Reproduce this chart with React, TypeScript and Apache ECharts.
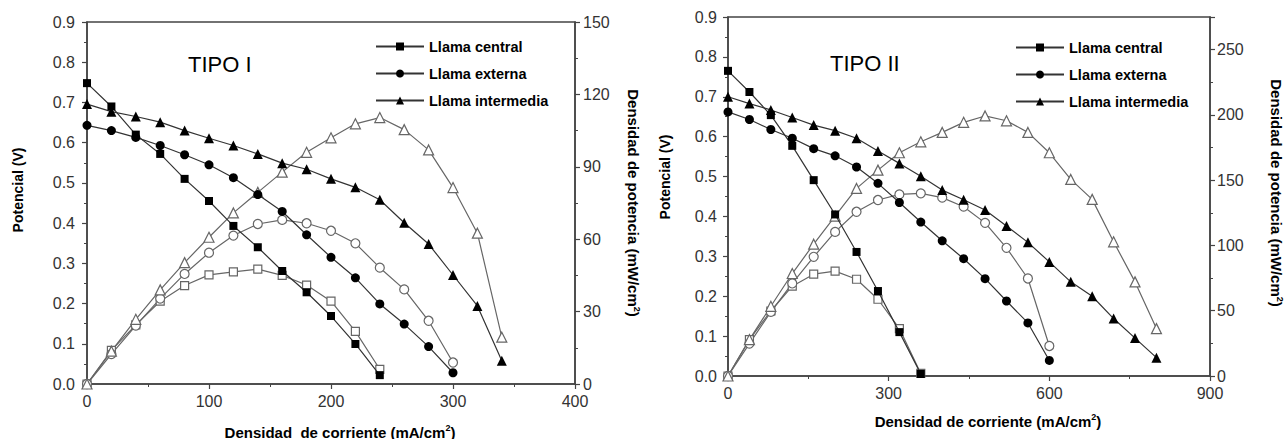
import React, { useEffect, useRef } from "react";
import * as echarts from "echarts";

// ---------- DATA ----------
// Panel TIPO I: current density (mA/cm2)
const currentI = [0, 20, 40, 60, 80, 100, 120, 140, 160, 180, 200, 220, 240, 260, 280, 300, 320, 340];
const centralV_I = [0.748, 0.69, 0.62, 0.572, 0.51, 0.455, 0.393, 0.34, 0.281, 0.228, 0.169, 0.0995, 0.022];
const centralP_I = [0, 13.9, 24.5, 34.3, 40.8, 45.2, 46.5, 47.6, 45, 41, 34.3, 21.8, 6.1];
const externaV_I = [0.643, 0.63, 0.613, 0.593, 0.57, 0.545, 0.513, 0.471, 0.429, 0.371, 0.315, 0.264, 0.199, 0.149, 0.093, 0.028];
const externaP_I = [0, 12.4, 24.2, 35.4, 45.6, 54.4, 61.5, 66.3, 68, 66.6, 63.5, 58.3, 48.2, 39.2, 26.2, 8.9];
const intermediaV_I = [0.696, 0.677, 0.665, 0.651, 0.63, 0.611, 0.593, 0.572, 0.549, 0.534, 0.51, 0.489, 0.458, 0.401, 0.348, 0.271, 0.194, 0.058];
const intermediaP_I = [0, 13.6, 26.8, 39, 50.3, 60.8, 70.9, 79.4, 87.8, 96, 102, 107.8, 110.4, 105.4, 97, 81.4, 62.5, 19.4];

// Panel TIPO II
const currentII = [0, 40, 80, 120, 160, 200, 240, 280, 320, 360, 400, 440, 480, 520, 560, 600, 640, 680, 720, 760, 800];
const centralV_II = [0.765, 0.712, 0.654, 0.577, 0.491, 0.405, 0.311, 0.213, 0.11, 0.005];
const centralP_II = [0, 27.9, 49.8, 68.8, 78, 80.3, 74.1, 58.8, 36.3, 2];
const externaV_II = [0.662, 0.643, 0.618, 0.596, 0.57, 0.552, 0.524, 0.483, 0.435, 0.386, 0.339, 0.294, 0.244, 0.188, 0.133, 0.039];
const externaP_II = [0, 24.8, 49.1, 70.9, 91.3, 110.4, 125.8, 134.8, 139.1, 139.9, 136.6, 129.7, 117.3, 98.2, 74.7, 23];
const intermediaV_II = [0.7, 0.683, 0.667, 0.648, 0.629, 0.615, 0.596, 0.564, 0.533, 0.501, 0.466, 0.442, 0.416, 0.376, 0.335, 0.286, 0.236, 0.2, 0.144, 0.095, 0.046];
const intermediaP_II = [0, 27.9, 53.4, 78.5, 101, 122.5, 143.7, 157.7, 171, 179.4, 186.6, 194.3, 199.2, 195.5, 186.6, 171, 150.6, 135.3, 102.8, 72.1, 36.3];

const legendNames = ["Llama central", "Llama externa", "Llama intermedia"];
const titles = ["TIPO I", "TIPO II"];
const yNameLeft = "Potencial (V)";
const yNameRight = "Densidad de potencia (mW/cm{s|2})";
const xNameI = "Densidad  de corriente (mA/cm{s|2})";
const xNameII = "Densidad de corriente (mA/cm{s|2})";

const FONT = 'Arial, "Liberation Sans", sans-serif';

function pairs(xs: number[], ys: number[]) {
  return ys.map((y, i) => [xs[i], y]);
}

const symbols = ["rect", "circle", "triangle"];
const symSizes = [8, 9, 10];

function voltSeries(name: string, idx: number, grid: number, xs: number[], ys: number[]) {
  return {
    name,
    type: "line",
    xAxisIndex: grid,
    yAxisIndex: grid * 2,
    data: pairs(xs, ys),
    symbol: symbols[idx],
    symbolSize: symSizes[idx],
    showSymbol: true,
    lineStyle: { color: "#333", width: 1.2 },
    itemStyle: { color: "#000", borderColor: "#000", borderWidth: 0 },
    z: 4,
  };
}

function powSeries(name: string, idx: number, grid: number, xs: number[], ys: number[]) {
  return {
    name,
    type: "line",
    xAxisIndex: grid,
    yAxisIndex: grid * 2 + 1,
    data: pairs(xs, ys),
    symbol: symbols[idx],
    symbolSize: symSizes[idx],
    showSymbol: true,
    lineStyle: { color: "#666", width: 1.2 },
    itemStyle: { color: "#fff", borderColor: "#666", borderWidth: 1.2 },
    z: 3,
  };
}

const axisLine = { show: true, lineStyle: { color: "#444", width: 1.5 } };
const axisTick = { show: true, length: 5, lineStyle: { color: "#444", width: 1.2 } };
const minorTick = { show: true, splitNumber: 2, length: 3, lineStyle: { color: "#444", width: 1 } };
const labelStyle = { color: "#333", fontSize: 16, fontFamily: FONT };
const richSup = {
  s: { fontSize: 9, fontWeight: "bold", fontFamily: FONT, verticalAlign: "top", lineHeight: 9 },
};
const nameText = { fontSize: 15, fontWeight: "bold", fontFamily: FONT, fill: "#000", lineHeight: 17 };
const legendText = { fontSize: 14.5, fontWeight: "bold", color: "#000", fontFamily: FONT, lineHeight: 14 };

export default function App() {
  const ref = useRef<HTMLDivElement>(null);
  useEffect(() => {
    if (!ref.current) return;
    const chart = echarts.init(ref.current, undefined, { renderer: "svg" });
    const option: any = {
      animation: false,
      backgroundColor: "#fff",
      grid: [
        { left: 87, top: 22, right: 711, bottom: 55, show: true, borderColor: "#444", borderWidth: 1.5, backgroundColor: "transparent" },
        { left: 728, top: 17, right: 76, bottom: 63, show: true, borderColor: "#444", borderWidth: 1.5, backgroundColor: "transparent" },
      ],
      legend: [
        {
          data: legendNames,
          orient: "vertical",
          left: 370,
          top: 34,
          itemWidth: 48,
          itemHeight: 10,
          itemGap: 12,
          textStyle: legendText,
          selectedMode: false,
        },
        {
          data: legendNames,
          orient: "vertical",
          left: 1010,
          top: 35,
          itemWidth: 48,
          itemHeight: 10,
          itemGap: 12,
          textStyle: legendText,
          selectedMode: false,
        },
      ],
      xAxis: [
        {
          type: "value", gridIndex: 0, min: 0, max: 400, interval: 100,
          axisLine, axisTick, minorTick, splitLine: { show: false },
          axisLabel: { ...labelStyle, margin: 9 },
        },
        {
          type: "value", gridIndex: 1, min: 0, max: 900, interval: 300,
          axisLine, axisTick, minorTick, splitLine: { show: false },
          axisLabel: { ...labelStyle, margin: 9 },
        },
      ],
      yAxis: [
        {
          type: "value", gridIndex: 0, min: 0, max: 0.9, interval: 0.1, position: "left",
          axisLine, axisTick, minorTick, splitLine: { show: false },
          axisLabel: { ...labelStyle, margin: 12, formatter: (v: number) => v.toFixed(1) },
        },
        {
          type: "value", gridIndex: 0, min: 0, max: 150, interval: 30, position: "right",
          axisLine, axisTick, minorTick, splitLine: { show: false },
          axisLabel: { ...labelStyle, margin: 8 },
        },
        {
          type: "value", gridIndex: 1, min: 0, max: 0.9, interval: 0.1, position: "left",
          axisLine, axisTick, minorTick, splitLine: { show: false },
          axisLabel: { ...labelStyle, margin: 11, formatter: (v: number) => v.toFixed(1) },
        },
        {
          type: "value", gridIndex: 1, min: 0, max: 275, interval: 50, position: "right",
          axisLine, axisTick, minorTick, splitLine: { show: false },
          axisLabel: { ...labelStyle, margin: 7, formatter: (v: number) => (v % 50 === 0 ? String(v) : "") },
        },
      ],
      series: [
        voltSeries(legendNames[0], 0, 0, currentI, centralV_I),
        voltSeries(legendNames[1], 1, 0, currentI, externaV_I),
        voltSeries(legendNames[2], 2, 0, currentI, intermediaV_I),
        powSeries("Potencia central I", 0, 0, currentI, centralP_I),
        powSeries("Potencia externa I", 1, 0, currentI, externaP_I),
        powSeries("Potencia intermedia I", 2, 0, currentI, intermediaP_I),
        voltSeries(legendNames[0], 0, 1, currentII, centralV_II),
        voltSeries(legendNames[1], 1, 1, currentII, externaV_II),
        voltSeries(legendNames[2], 2, 1, currentII, intermediaV_II),
        powSeries("Potencia central II", 0, 1, currentII, centralP_II),
        powSeries("Potencia externa II", 1, 1, currentII, externaP_II),
        powSeries("Potencia intermedia II", 2, 1, currentII, intermediaP_II),
      ],
      graphic: [
        { type: "text", x: 188, y: 64, style: { text: titles[0], fontSize: 22, fontFamily: FONT, fill: "#000", verticalAlign: "middle" } },
        { type: "text", x: 830, y: 63, style: { text: titles[1], fontSize: 22, fontFamily: FONT, fill: "#000", verticalAlign: "middle" } },
        { type: "text", x: 340, y: 432, style: { ...nameText, text: xNameI, align: "center", verticalAlign: "middle", rich: richSup } },
        { type: "text", x: 988, y: 421, style: { ...nameText, text: xNameII, align: "center", verticalAlign: "middle", rich: richSup } },
        { type: "text", x: 18, y: 190, rotation: Math.PI / 2, style: { ...nameText, fontSize: 14, text: yNameLeft, align: "center", verticalAlign: "middle" } },
        { type: "text", x: 665, y: 177, rotation: Math.PI / 2, style: { ...nameText, fontSize: 14, text: yNameLeft, align: "center", verticalAlign: "middle" } },
        { type: "text", x: 633, y: 203, rotation: -Math.PI / 2, style: { ...nameText, text: yNameRight, align: "center", verticalAlign: "middle", rich: richSup } },
        { type: "text", x: 1276, y: 193, rotation: -Math.PI / 2, style: { ...nameText, text: yNameRight, align: "center", verticalAlign: "middle", rich: richSup } },
      ],
    };
    chart.setOption(option);
    return () => chart.dispose();
  }, []);
  return (
    <div
      ref={ref}
      style={{ position: "fixed", left: 0, top: 0, width: 1286, height: 439, background: "#fff" }}
    />
  );
}
